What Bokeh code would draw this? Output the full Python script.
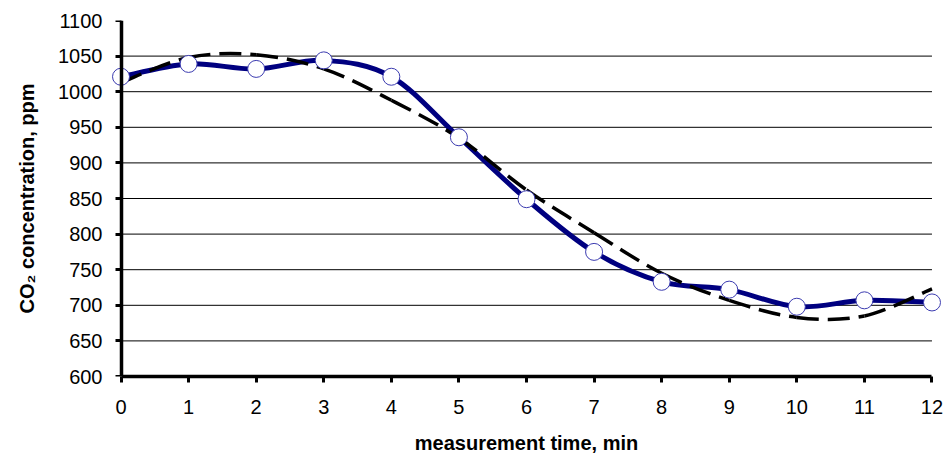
from bokeh.plotting import figure
from bokeh.models import Range1d, FixedTicker, ColumnDataSource, LinearAxis
from bokeh.embed import file_html
from bokeh.resources import INLINE

# ---- data ----
time_min = [0, 1, 2, 3, 4, 5, 6, 7, 8, 9, 10, 11, 12]
co2_measured = [1021, 1039, 1032, 1044, 1021, 936, 849, 775, 733, 722, 698, 707, 704]
co2_trend = [1013, 1048, 1052, 1032, 988, 935, 862, 802, 745, 707, 683, 685, 723]
y_ticks = [600, 650, 700, 750, 800, 850, 900, 950, 1000, 1050, 1100]
grid_levels = [650, 700, 750, 800, 850, 900, 950, 1000, 1050]
x_ticks = time_min


def smooth_segments(xs, ys):
    """Catmull-Rom style cubic Bezier control points (like a smoothed spreadsheet line)."""
    n = len(xs)
    d = dict(x0=[], y0=[], x1=[], y1=[], cx0=[], cy0=[], cx1=[], cy1=[])
    for i in range(n - 1):
        xa_, ya_ = xs[i], ys[i]
        xb, yb = xs[i + 1], ys[i + 1]
        xm, ym = (xs[i - 1], ys[i - 1]) if i > 0 else (xa_, ya_)
        xp, yp = (xs[i + 2], ys[i + 2]) if i + 2 < n else (xb, yb)
        d["x0"].append(xa_); d["y0"].append(ya_)
        d["x1"].append(xb); d["y1"].append(yb)
        d["cx0"].append(xa_ + (xb - xm) / 6.0); d["cy0"].append(ya_ + (yb - ym) / 6.0)
        d["cx1"].append(xb - (xp - xa_) / 6.0); d["cy1"].append(yb - (yp - ya_) / 6.0)
    return ColumnDataSource(d)


pad = 0.2
p = figure(
    frame_width=838, frame_height=356,
    x_range=Range1d(time_min[0] - pad, time_min[-1] + pad),
    y_range=Range1d(y_ticks[0], y_ticks[-1]),
    output_backend="svg", toolbar_location=None,
    min_border_left=107, min_border_right=1, min_border_top=20, min_border_bottom=70,
)
p.outline_line_color = None
p.background_fill_color = "white"
p.border_fill_color = "white"
p.xgrid.visible = False
p.ygrid.visible = False

# horizontal grid lines spanning the axis range only
p.segment(x0=[time_min[0]] * len(grid_levels), x1=[time_min[-1]] * len(grid_levels),
          y0=grid_levels, y1=grid_levels, line_color="black", line_width=1)

# measured (smoothed) line
p.bezier(x0="x0", y0="y0", x1="x1", y1="y1", cx0="cx0", cy0="cy0", cx1="cx1", cy1="cy1",
         source=smooth_segments(time_min, co2_measured),
         line_color="#000080", line_width=5, line_cap="round")
# trend line (dashed)
p.bezier(x0="x0", y0="y0", x1="x1", y1="y1", cx0="cx0", cy0="cy0", cx1="cx1", cy1="cy1",
         source=smooth_segments(time_min, co2_trend),
         line_color="black", line_width=3.5, line_dash="22 9")
# markers
p.scatter(time_min, co2_measured, size=17, fill_color="white",
          line_color="#3b3bb0", line_width=1)

FONT = "Liberation Sans"

# x axis
xa = p.xaxis[0]
xa.ticker = FixedTicker(ticks=x_ticks)
xa.bounds = (time_min[0], time_min[-1])
xa.axis_label = "measurement time, min"

# y axis in the left panel: labels only
ya = p.yaxis[0]
ya.ticker = FixedTicker(ticks=y_ticks)
ya.axis_label = "CO\u2082 concentration, ppm"
ya.axis_line_color = None
ya.major_tick_line_color = None
ya.major_tick_out = 0
ya.major_tick_in = 0
ya.major_label_standoff = 5
ya.axis_label_standoff = 17

# y axis line + ticks drawn at x = 0
yline = LinearAxis(ticker=FixedTicker(ticks=y_ticks), fixed_location=time_min[0])
yline.major_label_text_color = None
yline.major_label_text_font_size = "1px"
p.add_layout(yline, "left")

for ax in (xa, ya, yline):
    ax.minor_tick_line_color = None
    ax.major_label_text_font = FONT
    ax.major_label_text_font_size = "20px"
    ax.major_label_text_color = "black"
    ax.axis_label_text_font = FONT
    ax.axis_label_text_font_style = "bold"
    ax.axis_label_text_font_size = "20px"
    ax.axis_label_text_color = "black"
for ax in (xa, yline):
    ax.axis_line_width = 3.5
    ax.axis_line_color = "black"
    ax.major_tick_line_width = 3
    ax.major_tick_line_color = "black"
    ax.major_tick_out = 6
    ax.major_tick_in = 0
yline.major_label_text_color = None
yline.major_label_text_font_size = "1px"
xa.major_label_standoff = 17
xa.axis_label_standoff = 15

open("out.html", "w").write(file_html(p, INLINE))
